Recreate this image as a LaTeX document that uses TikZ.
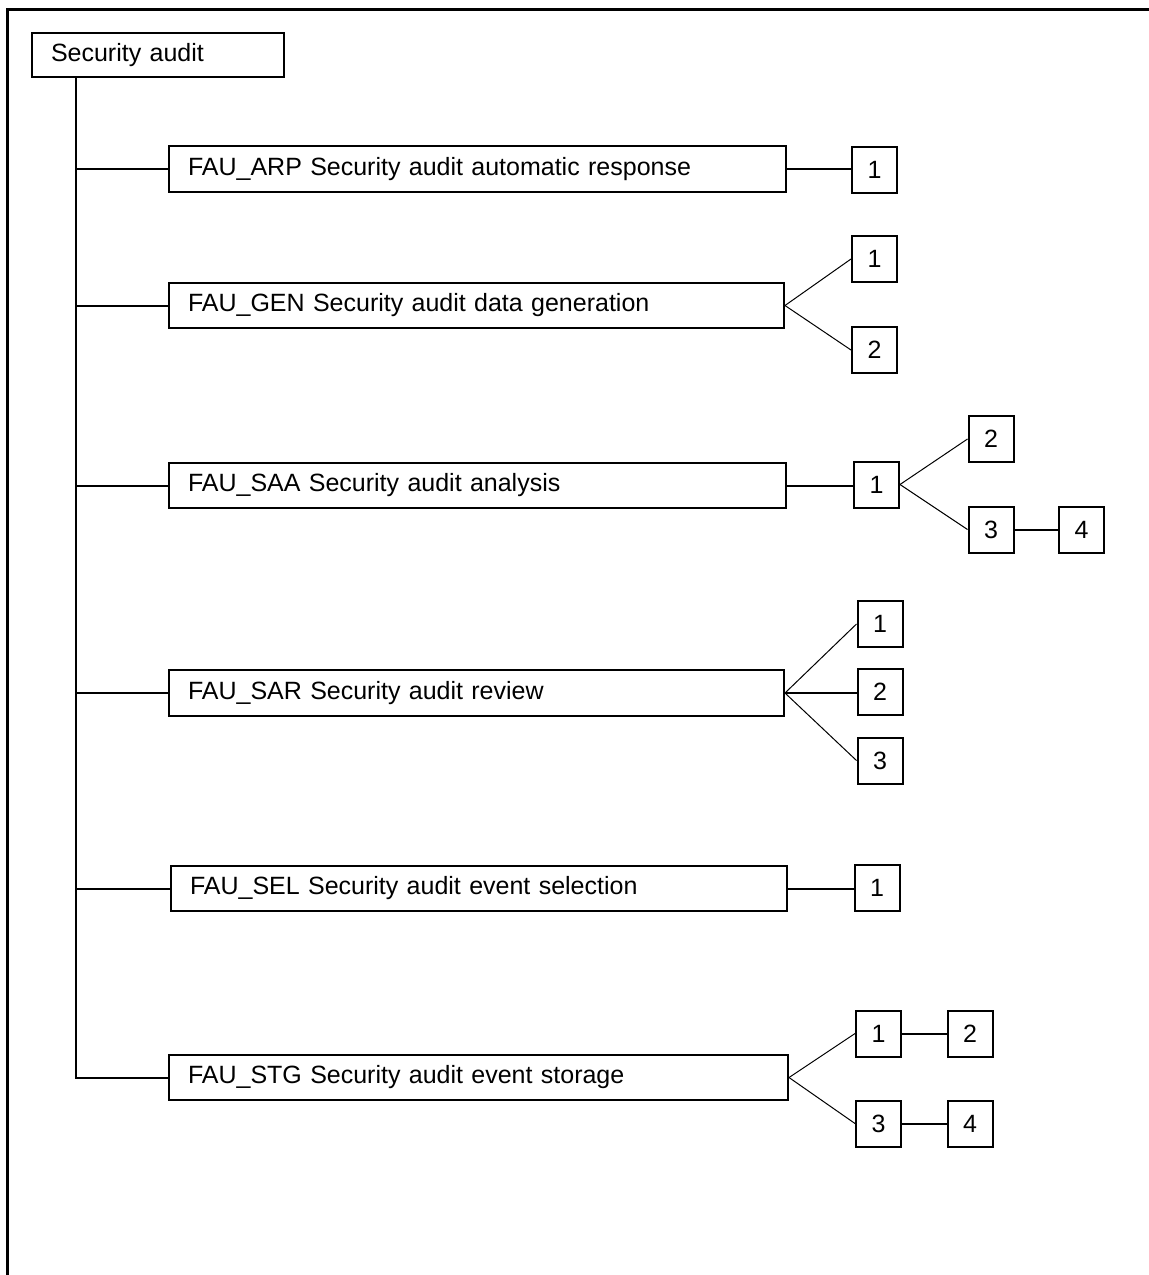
\documentclass[tikz,border=0pt]{standalone}
\usepackage{fontspec}
\setmainfont{Liberation Sans}
\begin{document}
\begin{tikzpicture}[x=1pt,y=-1pt,
  lbl/.style={font=\fontsize{25}{30}\selectfont},
  bigbox/.style={draw, line width=2pt, lbl, text width=#1, align=left, inner xsep=19pt, inner ysep=0pt, minimum height=46pt, anchor=north west},
  smallbox/.style={draw, line width=2pt, lbl, minimum width=45pt, minimum height=46pt, inner sep=0pt},
  thickline/.style={line width=2pt},
  thinline/.style={line width=1pt}]
\useasboundingbox (0,0) rectangle (1149,1275);
% frame
\draw[line width=3pt] (7.5,1275) -- (7.5,9.5) -- (1149,9.5);
% root
\node[bigbox=214pt, minimum height=44pt] (root) at (31,32) {Security audit};
% families
\node[bigbox=579pt] (arp) at (168,145) {FAU\_ARP Security audit automatic response};
\node[bigbox=577pt, minimum height=45pt] (gen) at (168,282) {FAU\_GEN Security audit data generation};
\node[bigbox=579pt, minimum height=45pt] (saa) at (168,462) {FAU\_SAA Security audit analysis};
\node[bigbox=577pt] (sar) at (168,669) {FAU\_SAR Security audit review};
\node[bigbox=578pt, minimum height=45pt] (sel) at (170,865) {FAU\_SEL Security audit event selection};
\node[bigbox=581pt, minimum height=45pt] (stg) at (168,1054) {FAU\_STG Security audit event storage};
% components
\node[smallbox] (a1) at (874.5,170) {1};
\node[smallbox] (g1) at (874.5,259) {1};
\node[smallbox] (g2) at (874.5,350) {2};
\node[smallbox] (s1) at (876.5,484.5) {1};
\node[smallbox] (s2) at (991,439) {2};
\node[smallbox] (s3) at (991,529.5) {3};
\node[smallbox] (s4) at (1081.5,529.5) {4};
\node[smallbox] (r1) at (880,624) {1};
\node[smallbox] (r2) at (880,692) {2};
\node[smallbox] (r3) at (880,760.5) {3};
\node[smallbox] (e1) at (877,887.5) {1};
\node[smallbox] (t1) at (878.5,1033.5) {1};
\node[smallbox] (t2) at (970,1033.5) {2};
\node[smallbox] (t3) at (878.5,1123.5) {3};
\node[smallbox] (t4) at (970,1123.5) {4};
% trunk
\coordinate (tx) at ([xshift=45pt]root.south west);
\draw[thickline] (tx) |- (stg.west);
\foreach \n in {arp,gen,saa,sar,sel}
  \draw[thickline] (tx |- \n.west) -- (\n.west);
% branches
\draw[thickline] (arp.east) -- (arp.east -| a1.west);
\draw[thinline] (gen.east) -- (g1.west);
\draw[thinline] (gen.east) -- (g2.west);
\draw[thickline] (saa.east) -- (saa.east -| s1.west);
\draw[thinline] (s1.east) -- (s2.west);
\draw[thinline] (s1.east) -- (s3.west);
\draw[thickline] (s3.east) -- (s4.west);
\draw[thinline] (sar.east) -- (r1.west);
\draw[thickline] (sar.east) -- (sar.east -| r2.west);
\draw[thinline] (sar.east) -- (r3.west);
\draw[thickline] (sel.east) -- (sel.east -| e1.west);
\draw[thinline] (stg.east) -- (t1.west);
\draw[thinline] (stg.east) -- (t3.west);
\draw[thickline] (t1.east) -- (t2.west);
\draw[thickline] (t3.east) -- (t4.west);
\end{tikzpicture}
\end{document}
